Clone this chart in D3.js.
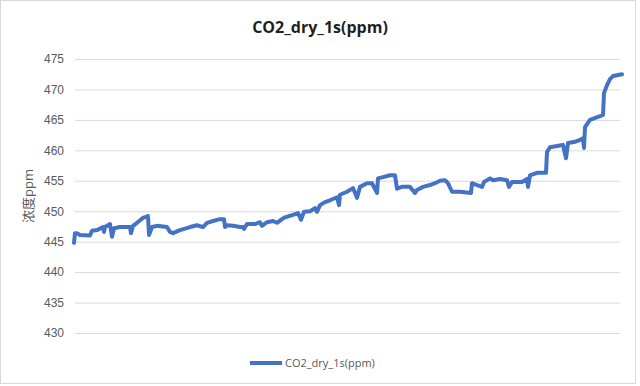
<!DOCTYPE html>
<html lang="zh">
<head>
<meta charset="utf-8">
<title>CO2_dry_1s(ppm)</title>
<script src="https://cdn.jsdelivr.net/npm/d3@7"></script>
<style>
body { margin: 0; background: #fff; }
svg { display: block; font-family: "Open Sans", "Noto Sans CJK SC", sans-serif; }
</style>
</head>
<body>
<script>
// chart data (sample index along the run, ppm value)
var title = "CO2_dry_1s(ppm)";
var yTitle = "浓度ppm";
var yTicks = [430, 435, 440, 445, 450, 455, 460, 465, 470, 475];
var sampleIdx = [0, 1, 3, 6, 16, 18, 23, 29, 30, 31, 36, 38, 40, 46, 56, 57, 59, 63, 69, 74, 75, 78, 83, 93, 96, 99, 106, 116, 123,
  129, 133, 139, 146, 150, 151, 153, 159, 166, 169, 170, 173, 181, 186, 188, 193, 199, 203, 208, 211, 219, 224, 227, 230, 236,
  241, 243, 246, 251, 256, 263, 265, 266, 273, 279, 283, 286, 293, 298, 303, 304, 309, 316, 321, 323, 328, 336, 341, 343, 349,
  356, 361, 366, 371, 374, 378, 386, 397, 398, 403, 408, 410, 416, 419, 426, 433, 435, 438, 448, 453, 454, 456, 463, 472, 473,
  476, 483, 489, 492, 494, 501, 506, 509, 510, 511, 516, 526, 529, 530, 533, 536, 539, 548];
var co2 = [444.8, 446.4, 446.4, 446.1, 446.0, 446.8, 446.9, 447.4, 446.6, 447.4, 447.9, 445.8, 447.2, 447.4, 447.4, 446.4, 447.6,
  448.1, 448.9, 449.2, 446.1, 447.4, 447.6, 447.4, 446.6, 446.4, 446.9, 447.4, 447.7,
  447.4, 448.1, 448.4, 448.7, 448.7, 447.4, 447.7, 447.6, 447.4, 447.4, 447.1, 447.9, 447.9, 448.2, 447.6, 448.2, 448.4, 448.1,
  448.7, 449.0, 449.4, 449.7, 448.6, 449.9, 450.0,
  450.5, 449.9, 451.0, 451.5, 451.8, 452.3, 451.0, 452.7, 453.2, 453.8, 452.2, 454.0, 454.6, 454.6, 453.0, 455.4, 455.6, 455.9,
  455.9, 453.7, 454.0, 454.0, 453.0, 453.5, 454.0, 454.3, 454.6, 455.0, 455.1, 454.6, 453.2, 453.2, 453.0, 454.6, 454.3, 454.0,
  454.8, 455.4, 455.1, 455.3, 455.1, 454.0, 454.8, 454.8, 455.3, 454.0, 455.9, 456.3, 456.3, 459.7, 460.5, 460.7, 460.9, 458.7,
  461.2, 461.4, 461.7, 462.0, 460.4, 463.8, 465.0, 465.6, 465.8, 469.4, 470.7, 471.7, 472.2, 472.5];

var w = 640, h = 386;
var svg = d3.select("body").append("svg").attr("width", w).attr("height", h);

// outer chart border
svg.append("rect")
  .attr("x", 0.5).attr("y", 0.5).attr("width", 635).attr("height", 383)
  .attr("fill", "#fff").attr("stroke", "#d9d9d9");

var x = d3.scaleLinear().domain([0, 548]).range([74, 622]);
var y = d3.scaleLinear().domain([430, 475]).range([333, 59]);

// y axis with gridlines
var yAxis = svg.append("g")
  .attr("transform", "translate(75,0)")
  .call(d3.axisLeft(y).tickValues(yTicks).tickSize(-545).tickPadding(11));
yAxis.select(".domain").remove();
yAxis.selectAll("line").attr("stroke", "#d9d9d9");
yAxis.selectAll("text").attr("fill", "#595959").attr("font-size", "12px");

// title
svg.append("text")
  .attr("x", 320).attr("y", 33)
  .attr("text-anchor", "middle")
  .attr("font-size", "16px").attr("font-weight", "bold").attr("fill", "#1f1f1f")
  .text(title);

// y axis title
svg.append("text")
  .attr("transform", "translate(33,196) rotate(-90)")
  .attr("text-anchor", "middle")
  .attr("font-size", "13px").attr("fill", "#595959")
  .text(yTitle);

// the series
var line = d3.line()
  .x(function(d, i) { return x(sampleIdx[i]); })
  .y(function(d) { return y(d); });

svg.append("path")
  .datum(co2)
  .attr("d", line)
  .attr("fill", "none")
  .attr("stroke", "#4472c4")
  .attr("stroke-width", 4)
  .attr("stroke-linejoin", "round")
  .attr("stroke-linecap", "round");

// legend
var legend = svg.append("g").attr("transform", "translate(250,363)");
legend.append("line")
  .attr("x1", 0).attr("x2", 32).attr("y1", 0).attr("y2", 0)
  .attr("stroke", "#4472c4").attr("stroke-width", 4);
legend.append("text")
  .attr("x", 35).attr("y", 4)
  .attr("font-size", "11px").attr("fill", "#595959")
  .text(title);
</script>
</body>
</html>
